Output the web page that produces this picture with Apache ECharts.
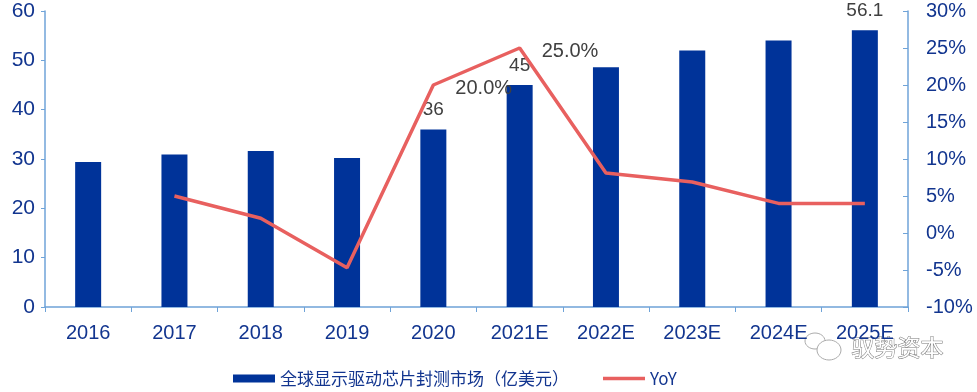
<!DOCTYPE html>
<html><head><meta charset="utf-8">
<script src="https://cdn.jsdelivr.net/npm/echarts@6/dist/echarts.min.js"></script>
<style>html,body{margin:0;padding:0;background:#fff}#c{width:977px;height:392px}</style>
</head><body><div id="c"></div>
<script>
const categories = ['2016','2017','2018','2019','2020','2021E','2022E','2023E','2024E','2025E'];
const marketValues = [29.4, 30.9, 31.6, 30.2, 36, 45, 48.6, 52.0, 54.0, 56.1];
const yoyValues = [null, 5.0, 2.0, -4.7, 20.0, 25.0, 8.1, 6.9, 4.0, 4.0];
const barLabelShown = ['2020','2021E','2025E'];
const lineLabelShown = ['2020','2021E'];
const barName = '全球显示驱动芯片封测市场（亿美元）';
const lineName = 'YoY';

const axisColor = '#6FA3D8';
const textColor = '#12358F';
const chart = echarts.init(document.getElementById('c'));
chart.setOption({
  animation: false,
  grid: {left: 45, right: 69, top: 11, bottom: 85},
  legend: {
    top: 365, left: 228, itemGap: 34, itemWidth: 42, itemHeight: 8,
    textStyle: {fontSize: 17, color: textColor, fontFamily: 'Noto Sans CJK SC'},
    data: [{name: barName, icon: 'rect'},
           {name: lineName, icon: 'path://M0,0 L42,0 L42,3.5 L0,3.5 Z', itemStyle: {color: '#E8605F'}}]
  },
  xAxis: {
    type: 'category', data: categories,
    axisLine: {lineStyle: {color: axisColor, width: 1.5}},
    axisTick: {show: true, length: 5, lineStyle: {color: axisColor}},
    axisLabel: {color: textColor, fontSize: 20, margin: 16, fontFamily: 'Liberation Sans'}
  },
  yAxis: [{
    type: 'value', min: 0, max: 60, interval: 10,
    splitLine: {show: false},
    axisLine: {show: true, lineStyle: {color: axisColor, width: 1.5}},
    axisTick: {show: true, length: 4, lineStyle: {color: axisColor}},
    axisLabel: {color: textColor, fontSize: 21, margin: 10, fontFamily: 'Liberation Sans'}
  }, {
    type: 'value', min: -10, max: 30, interval: 5, position: 'right',
    splitLine: {show: false},
    axisLine: {show: true, lineStyle: {color: axisColor, width: 1.5}},
    axisTick: {show: true, inside: true, length: 5, lineStyle: {color: axisColor}},
    axisLabel: {color: textColor, fontSize: 20, margin: 18, fontFamily: 'Liberation Sans', formatter: '{value}%'}
  }],
  series: [{
    name: barName, type: 'bar', barWidth: 26,
    itemStyle: {color: '#003399'},
    data: marketValues.map((v, i) => ({
      value: v,
      label: {show: barLabelShown.includes(categories[i]), position: 'top', distance: 10,
        color: '#404040', fontSize: 19, fontFamily: 'Liberation Sans'}
    }))
  }, {
    name: lineName, type: 'line', yAxisIndex: 1, symbol: 'none', connectNulls: false,
    lineStyle: {color: '#E8605F', width: 3.5},
    itemStyle: {color: '#E8605F'},
    data: yoyValues
  }, {
    name: 'yoyLabels', type: 'scatter', yAxisIndex: 1, symbolSize: 0,
    itemStyle: {color: '#E8605F'}, z: 5,
    data: yoyValues.map((v, i) => ({
      value: lineLabelShown.includes(categories[i]) ? v : null,
      label: {show: lineLabelShown.includes(categories[i]), position: 'right', distance: 22,
        offset: [0, 3], color: '#404040', opacity: 1, fontSize: 20, fontFamily: 'Liberation Sans',
        formatter: p => p.value.toFixed(1) + '%'}
    }))
  }],
  graphic: [{
    type: 'ellipse', shape: {cx: 815, cy: 341, rx: 10, ry: 8},
    style: {fill: '#fff', stroke: '#aaa', lineWidth: 1}
  }, {
    type: 'ellipse', shape: {cx: 829, cy: 350, rx: 12, ry: 10},
    style: {fill: '#fff', stroke: '#aaa', lineWidth: 1}
  }, {
    type: 'text', left: 851, top: 335,
    style: {text: '驭势资本', fontSize: 23, fill: '#ffffff', stroke: '#777', lineWidth: 1,
      fontFamily: 'Noto Sans CJK SC'}
  }]
});
</script></body></html>
